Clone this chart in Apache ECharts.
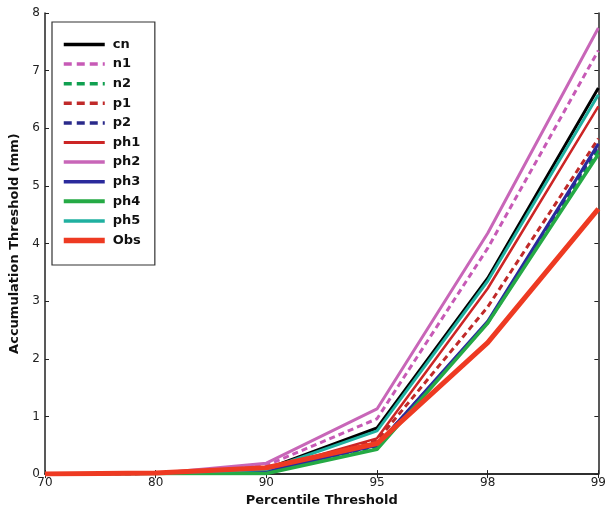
<!DOCTYPE html>
<html>
<head>
<meta charset="utf-8">
<script src="https://cdn.jsdelivr.net/npm/echarts@6/dist/echarts.min.js"></script>
<style>
  html, body { margin: 0; padding: 0; background: #fff; }
  #chart { width: 609px; height: 512px; }
</style>
</head>
<body>
<div id="chart"></div>
<script>
// Percentile thresholds (x categories)
const percentiles = ['70', '80', '90', '95', '98', '99'];

// Accumulation thresholds (mm) per run
const cn  = [0, 0.01, 0.09, 0.80, 3.40, 6.70];
const n1  = [0, 0.01, 0.15, 0.96, 3.92, 7.35];
const n2  = [0, 0.01, 0.03, 0.47, 2.62, 5.62];
const p1  = [0, 0.01, 0.06, 0.58, 2.90, 5.82];
const p2  = [0, 0.01, 0.04, 0.50, 2.63, 5.70];
const ph1 = [0, 0.01, 0.07, 0.62, 3.22, 6.38];
const ph2 = [0, 0.01, 0.19, 1.13, 4.18, 7.74];
const ph3 = [0, 0.01, 0.04, 0.50, 2.65, 5.73];
const ph4 = [0, 0.01, 0.01, 0.43, 2.62, 5.55];
const ph5 = [0, 0.01, 0.08, 0.75, 3.35, 6.58];
const obs = [0, 0.02, 0.11, 0.53, 2.28, 4.60];

const yTicks = [0, 1, 2, 3, 4, 5, 6, 7, 8];

function line(name, data, color, type, width) {
  return {
    name, type: 'line', data,
    symbol: 'none',
    lineStyle: { color, type, width },
    itemStyle: { color },
    z: name === 'Obs' ? 3 : 2
  };
}

const dash = [6, 4];
const series = [
  line('cn',  cn,  '#000000', 'solid', 3),
  line('n1',  n1,  '#c75ab6', dash, 3),
  line('n2',  n2,  '#10a050', dash, 3),
  line('p1',  p1,  '#c02a2a', dash, 3),
  line('p2',  p2,  '#2a2a8a', dash, 3),
  line('ph1', ph1, '#cc2525', 'solid', 2.5),
  line('ph2', ph2, '#c866b8', 'solid', 3),
  line('ph3', ph3, '#2a2a9c', 'solid', 3),
  line('ph4', ph4, '#25aa45', 'solid', 3.5),
  line('ph5', ph5, '#20b0a0', 'solid', 3),
  line('Obs', obs, '#ee3a22', 'solid', 5)
];

const chart = echarts.init(document.getElementById('chart'), null, { renderer: 'canvas' });
const tickFont = { fontFamily: 'DejaVu Sans', fontSize: 12, color: '#222' };
const frame = { show: true, lineStyle: { color: '#222', width: 1.5 } };

chart.setOption({
  animation: false,
  backgroundColor: '#fff',
  grid: { left: 40, right: 5, top: 13, bottom: 34, show: false },
  legend: {
    orient: 'vertical',
    left: 52, top: 22,
    padding: [16, 14, 18, 9],
    itemWidth: 41, itemHeight: 14, itemGap: 6.6,
    borderColor: '#333', borderWidth: 1.2, borderRadius: 0,
    backgroundColor: '#fff',
    itemStyle: { opacity: 0 },
    lineStyle: { width: 'inherit', type: 'inherit' },
    textStyle: { fontFamily: 'DejaVu Sans', fontWeight: 'bold', fontSize: 13, color: '#111', padding: [0, 0, 0, 3] },
    data: series.map(s => ({
      name: s.name,
      lineStyle: {
        width: s.lineStyle.width + 0.5,
        type: Array.isArray(s.lineStyle.type) ? [8, 5] : 'solid'
      }
    }))
  },
  xAxis: [
    {
      type: 'category', data: percentiles, boundaryGap: false,
      name: 'Percentile Threshold', nameLocation: 'middle', nameGap: 14,
      nameTextStyle: { fontFamily: 'DejaVu Sans', fontWeight: 'bold', fontSize: 13, color: '#111' },
      axisLine: frame,
      axisTick: { inside: true, length: 4, alignWithLabel: true, lineStyle: { color: '#222' } },
      axisLabel: Object.assign({ margin: 3 }, tickFont),
      splitLine: { show: false }
    },
    {
      type: 'category', data: percentiles, boundaryGap: false, position: 'top',
      axisLine: frame,
      axisTick: { inside: true, length: 4, lineStyle: { color: '#222' } },
      axisLabel: { show: false }, splitLine: { show: false }
    }
  ],
  yAxis: [
    {
      type: 'value', min: 0, max: 8, interval: 1,
      name: 'Accumulation Threshold (mm)', nameLocation: 'middle', nameGap: 24,
      nameTextStyle: { fontFamily: 'DejaVu Sans', fontWeight: 'bold', fontSize: 13, color: '#111' },
      axisLine: frame,
      axisTick: { show: true, inside: true, length: 4, lineStyle: { color: '#222' } },
      axisLabel: Object.assign({ margin: 5, formatter: v => yTicks.includes(v) ? String(v) : '' }, tickFont),
      splitLine: { show: false }
    },
    {
      type: 'value', min: 0, max: 8, interval: 1, position: 'right',
      axisLine: frame,
      axisTick: { show: true, inside: true, length: 4, lineStyle: { color: '#222' } },
      axisLabel: { show: false }, splitLine: { show: false }
    }
  ],
  series
});
</script>
</body>
</html>
